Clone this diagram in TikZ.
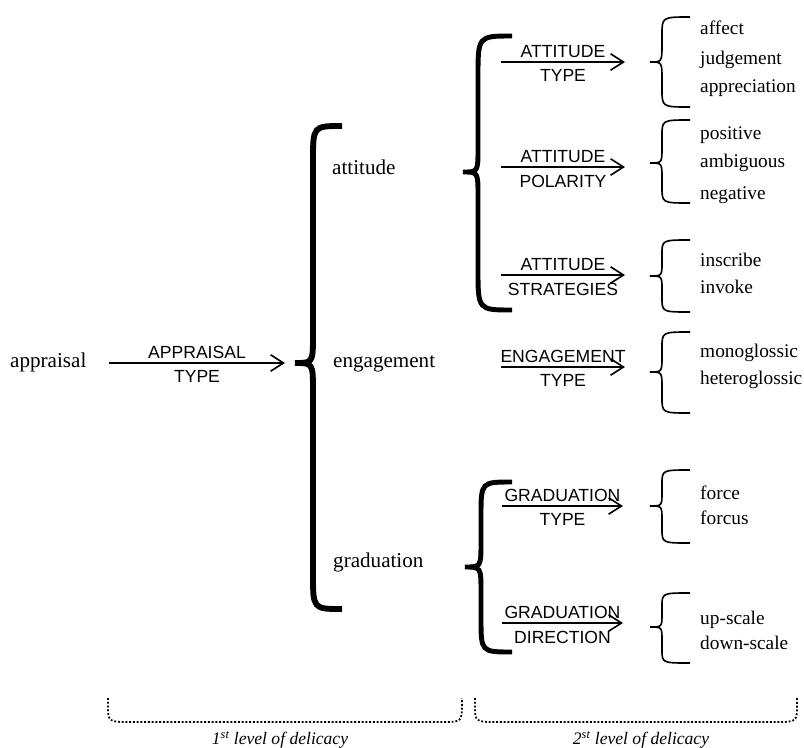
\documentclass[tikz,border=0pt]{standalone}
\usepackage{fontspec}
\setmainfont{Liberation Serif}
\setsansfont{Liberation Sans}
\usetikzlibrary{arrows.meta}

% curly brace: [style] {x end} {x stem} {x tip} {y top} {y tip} {y bottom}
\newcommand{\curly}[7][]{%
  \pgfmathsetmacro\half{min(#6-#5,#7-#6)}%
  \pgfmathsetmacro\ra{min(1.2*(#2-#3),0.4*\half)}%
  \pgfmathsetmacro\rb{min(1.6*(#3-#4),0.4*\half)}%
  \draw[#1] (#2,#5) .. controls (#3,#5) .. (#3,#5+\ra) -- (#3,#6-\rb)
    .. controls (#3,#6) .. (#4,#6) .. controls (#3,#6) .. (#3,#6+\rb)
    -- (#3,#7-\ra) .. controls (#3,#7) .. (#2,#7);}

\tikzset{
  word/.style={font=\fontsize{18}{20}\selectfont, inner sep=0pt, anchor=west,
    text height=12pt, text depth=4pt},
  leaf/.style={word, font=\fontsize{16.5}{18}\selectfont, text height=11pt, text depth=3.5pt},
  lbl/.style={font=\sffamily\fontsize{15}{17}\selectfont, inner sep=0pt},
  arr/.style={line width=1.4pt, -{Straight Barb[length=11pt,width=14pt]}},
  bigbrace/.style={line width=5pt},
  midbrace/.style={line width=4.2pt},
  smallbrace/.style={line width=1.4pt},
  level/.style={line width=1.5pt, dash pattern=on 1.6pt off 1.6pt},
  levellbl/.style={font=\itshape\fontsize{15}{17}\selectfont, inner sep=0pt}
}

\begin{document}
\begin{tikzpicture}[x=0.03cm, y=-0.03cm]
\useasboundingbox (0,0) rectangle (804,747);
% nodes
\node[word] (appraisal) at (10,363) {appraisal};
\node[word] (attitude) at (332,170) {attitude};
\node[word] (engagement) at (333,363) {engagement};
\node[word] (graduation) at (333,563) {graduation};

\node[leaf] (affect) at (700,30) {affect};
\node[leaf] (judgement) at (700,60) {judgement};
\node[leaf] (appreciation) at (700,88) {appreciation};
\node[leaf] (positive) at (700,135) {positive};
\node[leaf] (ambiguous) at (700,163) {ambiguous};
\node[leaf] (negative) at (700,195) {negative};
\node[leaf] (inscribe) at (700,262) {inscribe};
\node[leaf] (invoke) at (700,289) {invoke};
\node[leaf] (mono) at (700,353) {monoglossic};
\node[leaf] (hetero) at (700,380) {heteroglossic};
\node[leaf] (force) at (700,495) {force};
\node[leaf] (forcus) at (700,520) {forcus};
\node[leaf] (up) at (700,620) {up-scale};
\node[leaf] (down) at (700,645) {down-scale};

\node[levellbl] (first) at (280,740) {1\textsuperscript{st} level of delicacy};
\node[levellbl] (second) at (641,740) {2\textsuperscript{st} level of delicacy};

% arrow ends
\coordinate (s1) at (109,363);  \coordinate (e1) at (285,363);
\coordinate (s2) at (501,62);   \coordinate (e2) at (625,62);
\coordinate (s3) at (501,167);  \coordinate (e3) at (625,167);
\coordinate (s4) at (501,275);  \coordinate (e4) at (625,275);
\coordinate (s5) at (501,367);  \coordinate (e5) at (625,367);
\coordinate (s6) at (502,506);  \coordinate (e6) at (623,506);
\coordinate (s7) at (502,623);  \coordinate (e7) at (623,623);

% braces
\curly[bigbrace]{342}{313}{295}{126}{363}{609}
\curly[midbrace]{512}{478}{463}{36}{172}{310}
\curly[midbrace]{512}{481}{465}{482}{567}{652}
\curly[smallbrace]{690}{662}{650}{17}{62}{107}
\curly[smallbrace]{690}{662}{650}{120}{163}{203}
\curly[smallbrace]{690}{662}{650}{240}{276}{312}
\curly[smallbrace]{690}{662}{650}{332}{372}{413}
\curly[smallbrace]{690}{662}{650}{470}{506}{543}
\curly[smallbrace]{690}{662}{650}{593}{627}{663}

% edges
\draw[arr] (s1) -- node[lbl, above=3pt] {APPRAISAL} node[lbl, below=6pt] {TYPE} (e1);
\draw[arr] (s2) -- node[lbl, above=3pt] {ATTITUDE} node[lbl, below=6pt] {TYPE} (e2);
\draw[arr] (s3) -- node[lbl, above=3pt] {ATTITUDE} node[lbl, below=6pt] {POLARITY} (e3);
\draw[arr] (s4) -- node[lbl, above=3pt] {ATTITUDE} node[lbl, below=6pt] {STRATEGIES} (e4);
\draw[arr] (s5) -- node[lbl, above=3pt] {ENGAGEMENT} node[lbl, below=6pt] {TYPE} (e5);
\draw[arr] (s6) -- node[lbl, above=3pt] {GRADUATION} node[lbl, below=6pt] {TYPE} (e6);
\draw[arr] (s7) -- node[lbl, above=3pt] {GRADUATION} node[lbl, below=6pt] {DIRECTION} (e7);

% levels of delicacy
\draw[level] (108,698) -- (108,704) .. controls (108,722) .. (130,722) -- (440,722) .. controls (462,722) .. (462,704) -- (462,698);
\draw[level] (475,698) -- (475,704) .. controls (475,722) .. (497,722) -- (775,722) .. controls (797,722) .. (797,704) -- (797,698);
\end{tikzpicture}
\end{document}
